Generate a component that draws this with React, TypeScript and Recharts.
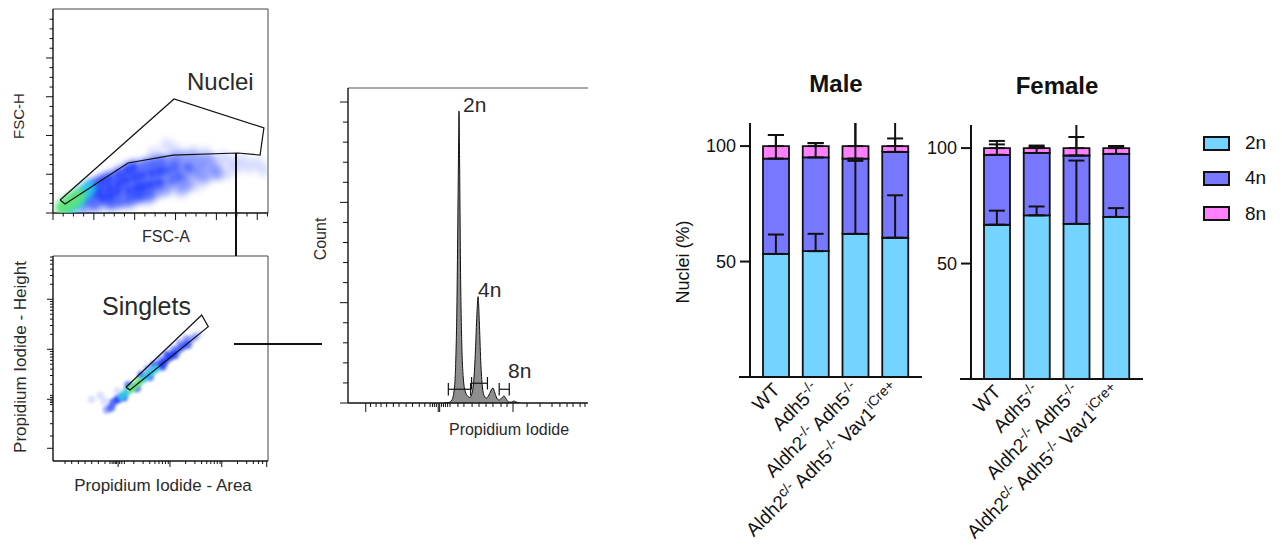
import React from 'react';
import {
  ComposedChart,
  Bar,
  Line,
  ErrorBar,
  XAxis,
  YAxis,
  Legend,
  ScatterChart,
  Scatter,
  AreaChart,
  Area,
  ReferenceLine,
} from 'recharts';

const FONT = '"Liberation Sans", Arial, Helvetica, sans-serif';
const INK = '#111';

// ---------- gate 1: FSC-A vs FSC-H (arbitrary linear units 0-100) ----------
// [FSC-A, FSC-H, relative density]
const nucleiEvents: [number, number, number][] = [
  [98, 21, 0.05], [95, 24.5, 0.06], [91, 22.5, 0.08], [88, 26, 0.07], [53, 33.5, 0.06], [71, 29.5, 0.08],
  [79, 27.5, 0.08], [85, 22, 0.1], [57, 31, 0.1], [65, 30, 0.1], [47, 29.5, 0.12], [83, 25.5, 0.12],
  [81, 19.5, 0.15], [44, 6, 0.12], [36, 4, 0.1], [60, 10, 0.1], [68, 14, 0.12], [22, 2.5, 0.15],
  [14, 1.5, 0.2], [77, 23.5, 0.18], [76.5, 19, 0.2], [73, 26, 0.2], [74.5, 21.5, 0.25], [69, 25.5, 0.25],
  [71, 17.5, 0.25], [65.5, 27, 0.25], [63, 13.5, 0.25], [67, 18.5, 0.3], [69.5, 22, 0.3], [61, 27.5, 0.3],
  [57.5, 26.5, 0.3], [59, 12.5, 0.3], [53, 11.5, 0.3], [65, 21.5, 0.35], [61.5, 17, 0.35], [55, 26, 0.35],
  [49, 10.5, 0.35], [27, 4.5, 0.4], [45, 9, 0.4], [50.5, 25.5, 0.4], [62.5, 22.5, 0.4], [41, 8.5, 0.45],
  [46.5, 24.5, 0.45], [57, 22.5, 0.45], [58.5, 18, 0.45], [19, 4, 0.5], [31, 5.5, 0.5], [35, 6.5, 0.5],
  [38.5, 8, 0.5], [42.5, 23.5, 0.5], [53.5, 21, 0.5], [55, 16, 0.5], [50, 20.5, 0.55], [49.5, 15, 0.55],
  [37.5, 22.5, 0.55], [15, 6.5, 0.6], [23, 7, 0.6], [34.5, 21, 0.6], [46, 19.5, 0.6], [45.5, 14, 0.6],
  [26.5, 8.5, 0.65], [30.5, 19, 0.65], [41.5, 18.5, 0.65], [42, 13, 0.65], [18.5, 9.5, 0.7], [26, 17, 0.7],
  [30, 10.5, 0.7], [34, 16, 0.7], [35, 11, 0.7], [38, 17.5, 0.7], [39, 12.5, 0.7], [19, 13.5, 0.75],
  [22.5, 15.5, 0.75], [21.5, 10.5, 0.75], [26, 12.5, 0.75], [30.5, 14.5, 0.75], [17, 12.5, 0.8], [13, 7, 0.8],
  [9, 4, 0.8], [11, 5.5, 0.85], [7, 2.5, 0.85], [16, 11, 0.85], [14, 10, 0.88], [12, 8.5, 0.95],
  [10, 7, 0.95], [4, 2.5, 1], [6, 4, 1], [8, 5.5, 1],
];
const nucleiGateA = [3.3, 56.3, 98.1, 96.3, 86.0, 55.8, 34.9, 5.6, 3.3];
const nucleiGateH = [6.4, 55.9, 41.7, 28.4, 29.4, 28.4, 24.5, 4.4, 6.4];
const fscMajorX = [0, 19, 38, 57, 76, 95];
const fscMinorX = [4.75, 9.5, 14.25, 23.75, 28.5, 33.25, 42.75, 47.5, 52.25, 61.75, 66.5, 71.25, 80.75, 85.5, 90.25, 99.75];
const fscMajorY = [0, 19, 38, 57, 76];
const fscMinorY = [4.75, 9.5, 14.25, 23.75, 28.5, 33.25, 42.75, 47.5, 52.25, 61.75, 66.5, 71.25, 80.75, 85.5, 90.25, 95];

// ---------- gate 2: PI-A vs PI-H (biexponential display units 0-100) ----------
const singletEvents: [number, number, number][] = [
  [18, 30, 0.08], [30, 34, 0.12], [22, 32, 0.1], [24, 29, 0.15], [62, 59.5, 0.2], [63, 56.5, 0.2],
  [68, 62, 0.15], [66, 60.5, 0.25], [59, 57.5, 0.3], [44, 45, 0.3], [56, 54.5, 0.3], [57, 51.5, 0.3],
  [64, 59, 0.3], [25, 25, 0.3], [50, 49.5, 0.35], [62, 57, 0.4], [53, 52, 0.4], [51, 46, 0.4],
  [27, 26, 0.4], [47, 47, 0.45], [45, 41, 0.45], [60, 55.5, 0.45], [28, 28.5, 0.5], [35, 37, 0.5],
  [41, 42, 0.5], [33, 31, 0.5], [39, 35.5, 0.5], [58, 54, 0.5], [56, 52, 0.55], [54, 50.5, 0.6],
  [30, 30, 0.7], [52, 48.5, 0.7], [50, 47, 0.75], [32, 31.5, 0.8], [48, 45, 0.8], [46, 43.5, 0.85],
  [34, 33.5, 0.9], [42, 40, 0.9], [44, 42, 0.9], [36, 35, 1], [38, 36.5, 1], [40, 38.5, 1],
];
const singletGateA = [33.95, 69.16, 72.23, 35.81, 33.95];
const singletGateH = [35.95, 71.22, 65.51, 34.63, 35.95];
const piMajorX = [30.3, 54.4, 78.5, 99.4];
const piMinorX = [5.6, 8.7, 11.8, 14.9, 18, 21.1, 24.2, 26.5, 27.5, 28.3, 29, 29.6, 31, 32, 33.2, 37.6, 41.9, 45, 47.4, 49.3, 50.9, 52.3, 53.6, 61.7, 66, 69.1, 71.5, 73.4, 75, 76.4, 77.7, 85.8, 90.1, 93.2, 95.6, 97.5];
const piMajorY = [6.2, 30.1, 54.5, 78.9];
const piMinorY = [12.2, 18.2, 24.2, 27.5, 28.5, 29.3, 31, 32, 37.4, 41.7, 44.8, 47.2, 49.1, 50.7, 52.1, 53.4, 61.8, 66.1, 69.2, 71.6, 73.5, 75.1, 76.5, 77.8, 86.2, 90.5, 93.6, 96, 97.9, 99.5];

// ---------- PI histogram ----------
const piLevel = [40, 42, 43.3, 44.2, 44.9, 45.4, 45.8, 46.1, 46.25, 46.5, 46.9, 47.4, 48, 48.8, 49.8, 50.8, 51.6, 52.4, 53.1, 53.7, 54.2, 54.7, 55.3, 56, 56.8, 57.6, 58.5, 59.5, 60.4, 61.2, 62.2, 63, 64, 65, 65.8, 66.8, 68, 69, 70, 71.5];
const piCount = [0, 5, 30, 120, 420, 1000, 1900, 2600, 2910, 2400, 1300, 600, 260, 120, 70, 55, 90, 220, 520, 880, 1060, 820, 420, 160, 70, 50, 70, 120, 150, 100, 40, 30, 50, 70, 45, 12, 8, 20, 10, 0];
const ploidyGates = ['2n', '4n', '8n'];
const gateFrom = [41.8, 51.5, 63];
const gateTo = [51.1, 58.1, 67.2];
const gateAt = [137, 197, 137];
const histMajorX = [7.4, 37.6, 38.2, 68.75];
const histMinorX = [9.4, 11.7, 13.75, 16.1, 18.9, 21.25, 24.2, 26.9, 29.7, 32, 34.2, 35.2, 36, 36.8, 39, 39.8, 40.6, 41.5, 42.5, 45.8, 48.3, 51.7, 54.6, 57.5, 60.4, 63.75, 66.25, 74.6, 80, 85, 88.3, 91.25, 93.75, 96.7, 98.75];
const histMajorY = [0, 1000, 2000, 3000];
const histMinorY = [200, 400, 600, 800, 1200, 1400, 1600, 1800, 2200, 2400, 2600, 2800];

// ---------- ploidy by genotype (% of nuclei, mean and SD) ----------
const genotypes = ['WT', 'Adh5', 'Aldh2 Adh5', 'Aldh2 Adh5 Vav1'];
const genotypeLabels: [string, string][][] = [
  [['WT', '']],
  [['Adh5', '-/-']],
  [['Aldh2', '-/-'], [' Adh5', '-/-']],
  [['Aldh2', 'c/-'], [' Adh5', '-/-'], [' Vav1', 'iCre+']],
];
const male2n = [53.3, 54.5, 62.0, 60.3];
const male4n = [41.3, 40.6, 32.6, 37.2];
const male8n = [5.4, 4.9, 5.4, 2.5];
const male2nSd = [8.4, 7.5, 31.6, 18.4];
const male4nSd = [10.2, 6.2, 18, 15];
const male8nSd = [4.8, 1.3, 12, 3.3];
const female2n = [66.8, 70.9, 67.2, 70.2];
const female4n = [30.3, 27.0, 29.6, 27.3];
const female8n = [2.9, 2.1, 3.2, 2.5];
const female2nSd = [6.1, 3.8, 27.4, 3.8];
const female4nSd = [4.5, 2.6, 16, 3.4];
const female8nSd = [3.1, 1.1, 4.8, 0.9];
const ploidyColors = ['#74d3ff', '#7878ff', '#ff80ff'];

const toEvents = (rows: [number, number, number][]) => rows.map(([a, h, d]) => ({ a, h, d }));
const toPath = (xs: number[], ys: number[]) => xs.map((a, i) => ({ a, h: ys[i] }));

const buildRows = (s2: number[], s4: number[], s8: number[], e2: number[], e4: number[], e8: number[]) =>
  genotypes.map((g, i) => ({
    genotype: g,
    n2: s2[i],
    n4: s4[i],
    n8: s8[i],
    top2: s2[i],
    top4: s2[i] + s4[i],
    top8: s2[i] + s4[i] + s8[i],
    err2: [0, e2[i]],
    err4: [0, e4[i]],
    err8: [0, e8[i]],
  }));

const maleRows = buildRows(male2n, male4n, male8n, male2nSd, male4nSd, male8nSd);
const femaleRows = buildRows(female2n, female4n, female8n, female2nSd, female4nSd, female8nSd);

// density colouring like a pseudocolour dot plot
const densityFill = (d: number): [string, number] => {
  if (d >= 0.92) return ['#5fe37a', 1];
  if (d >= 0.78) return ['#27c6e8', 0.9];
  if (d >= 0.55) return ['#1533ff', 0.85];
  if (d >= 0.38) return ['#2140ff', 0.7];
  if (d >= 0.2) return ['#4a62ff', 0.5];
  return ['#8d9bff', 0.3];
};

const densityDot = (r: number, blur: number) => (props: any) => {
  const { cx, cy, payload } = props;
  const [fill, op] = densityFill(payload.d);
  return <circle cx={cx} cy={cy} r={r} fill={fill} fillOpacity={op} style={{ filter: `blur(${blur}px)` }} />;
};

const noDot = () => <g />;

// flow-style tick marks: long for decades, short in between
const flowTick = (side: 'left' | 'bottom', majors: number[], major: number, minor: number) => (props: any) => {
  const { x, y, payload } = props;
  const len = majors.includes(payload.value) ? major : minor;
  return side === 'left' ? (
    <line x1={x - len} y1={y} x2={x} y2={y} stroke={INK} strokeWidth={1} />
  ) : (
    <line x1={x} y1={y} x2={x} y2={y + len} stroke={INK} strokeWidth={1} />
  );
};

const axisLine = { stroke: INK, strokeWidth: 1.4 };

function NucleiPlot() {
  return (
    <ScatterChart width={280} height={226} margin={{ top: 9, right: 12, bottom: 3, left: 43 }}>
      <XAxis type="number" dataKey="a" domain={[0, 100]} allowDataOverflow ticks={[...fscMajorX, ...fscMinorX]}
        interval={0} tickSize={0} tickMargin={0} tickLine={false} height={10} axisLine={axisLine}
        tick={flowTick('bottom', fscMajorX, 7, 3.5)} />
      <YAxis type="number" dataKey="h" domain={[0, 100]} allowDataOverflow ticks={[...fscMajorY, ...fscMinorY]}
        interval={0} tickSize={0} tickMargin={0} tickLine={false} width={10} axisLine={axisLine}
        tick={flowTick('left', fscMajorY, 7, 3.5)} />
      <ReferenceLine y={100} stroke="#444" strokeWidth={1} />
      <ReferenceLine x={100} stroke="#444" strokeWidth={1} />
      <Scatter data={toEvents(nucleiEvents)} shape={densityDot(6.5, 3.2)} isAnimationActive={false} />
      <Scatter data={toPath(nucleiGateA, nucleiGateH)} line={{ stroke: INK, strokeWidth: 1.2 }} shape={noDot} isAnimationActive={false} />
    </ScatterChart>
  );
}

function SingletsPlot() {
  return (
    <ScatterChart width={280} height={236} margin={{ top: 16, right: 12, bottom: 5, left: 43 }}>
      <XAxis type="number" dataKey="a" domain={[0, 100]} allowDataOverflow ticks={[...piMajorX, ...piMinorX]}
        interval={0} tickSize={0} tickMargin={0} tickLine={false} height={10} axisLine={axisLine}
        tick={flowTick('bottom', piMajorX, 6, 3)} />
      <YAxis type="number" dataKey="h" domain={[0, 100]} allowDataOverflow ticks={[...piMajorY, ...piMinorY]}
        interval={0} tickSize={0} tickMargin={0} tickLine={false} width={10} axisLine={axisLine}
        tick={flowTick('left', piMajorY, 6, 3)} />
      <ReferenceLine y={100} stroke="#444" strokeWidth={1} />
      <ReferenceLine x={100} stroke="#444" strokeWidth={1} />
      <Scatter data={toEvents(singletEvents)} shape={densityDot(4, 1.8)} isAnimationActive={false} />
      <Scatter data={toPath(singletGateA, singletGateH)} line={{ stroke: INK, strokeWidth: 1.2 }} shape={noDot} isAnimationActive={false} />
    </ScatterChart>
  );
}

function PloidyHistogram() {
  const data = piLevel.map((level, i) => ({ level, count: piCount[i] }));
  return (
    <AreaChart width={300} height={340} data={data} margin={{ top: 8, right: 12, bottom: 5, left: 38 }}>
      <XAxis type="number" dataKey="level" domain={[0, 100]} allowDataOverflow ticks={[...histMajorX, ...histMinorX]}
        interval={0} tickSize={0} tickMargin={0} tickLine={false} height={12} axisLine={axisLine}
        tick={flowTick('bottom', histMajorX, 9, 4)} />
      <YAxis type="number" domain={[0, 3140]} allowDataOverflow ticks={[...histMajorY, ...histMinorY]}
        interval={0} tickSize={0} tickMargin={0} tickLine={false} width={10} axisLine={axisLine}
        tick={flowTick('left', histMajorY, 8, 5)} />
      <ReferenceLine y={3140} stroke="#555" strokeWidth={1} />
      <Area type="monotone" dataKey="count" stroke={INK} strokeWidth={1} fill="#8e8e8e" fillOpacity={1}
        isAnimationActive={false} dot={false} activeDot={false} />
      {ploidyGates.map((g, i) => (
        <React.Fragment key={g}>
          <ReferenceLine segment={[{ x: gateFrom[i], y: gateAt[i] }, { x: gateTo[i], y: gateAt[i] }]} stroke={INK} strokeWidth={1.2} />
          <ReferenceLine segment={[{ x: gateFrom[i], y: gateAt[i] - 62 }, { x: gateFrom[i], y: gateAt[i] + 62 }]} stroke={INK} strokeWidth={1.2} />
          <ReferenceLine segment={[{ x: gateTo[i], y: gateAt[i] - 62 }, { x: gateTo[i], y: gateAt[i] + 62 }]} stroke={INK} strokeWidth={1.2} />
        </React.Fragment>
      ))}
    </AreaChart>
  );
}

const GenotypeTick = (props: any) => {
  const { x, y, payload } = props;
  const parts = genotypeLabels[genotypes.indexOf(payload.value)] || [];
  let lift = 0;
  return (
    <text transform={`translate(${x + 5},${y + 14}) rotate(-45)`} textAnchor="end" fontSize={19} fontFamily={FONT} fill={INK}>
      {parts.flatMap(([base, sup], i) => {
        const out = [<tspan key={`b${i}`} dy={lift}>{base}</tspan>];
        lift = 0;
        if (sup) {
          out.push(<tspan key={`s${i}`} dy={-7} fontSize={14}>{sup}</tspan>);
          lift = 7;
        }
        return out;
      })}
    </text>
  );
};

const PloidyLegend = (props: any) => (
  <div style={{ fontFamily: FONT }}>
    {(props.payload || [])
      .filter((p: any) => ploidyGates.includes(p.value))
      .map((p: any) => (
        <div key={p.value} style={{ display: 'flex', alignItems: 'center', height: 35.3 }}>
          <span style={{ display: 'inline-block', boxSizing: 'border-box', width: 27, height: 15, background: p.color, border: `2px solid ${INK}` }} />
          <span style={{ marginLeft: 15, fontSize: 19, color: INK }}>{p.value}</span>
        </div>
      ))}
  </div>
);

// error bars may run past the 110% ceiling; they are clipped to the plot box
const PLOT_CLIP = 'ploidy-plot-clip';

function PloidyBars({ rows, legendTop }: { rows: any[]; legendTop?: number }) {
  const errKeys = ['err2', 'err4', 'err8'];
  const topKeys = ['top2', 'top4', 'top8'];
  return (
    <ComposedChart width={300} height={487} data={rows} margin={{ top: 63, right: 18, bottom: 0, left: 60 }}>
      <XAxis dataKey="genotype" type="category" padding={{ left: 6, right: 7 }} height={170} tickLine={false}
        tickSize={0} tickMargin={0} interval={0} axisLine={{ stroke: INK, strokeWidth: 2 }} tick={<GenotypeTick />} />
      <YAxis domain={[0, 110]} allowDataOverflow ticks={[50, 100]} width={50} tickSize={10} tickMargin={4}
        axisLine={{ stroke: INK, strokeWidth: 2 }} tickLine={{ stroke: INK, strokeWidth: 2 }}
        tick={{ fill: INK, fontSize: 18, fontFamily: FONT }} />
      {['n2', 'n4', 'n8'].map((k, i) => (
        <Bar key={k} dataKey={k} name={ploidyGates[i]} stackId="ploidy" fill={ploidyColors[i]} stroke={INK}
          strokeWidth={1.8} barSize={26} isAnimationActive={false} />
      ))}
      {topKeys.map((k, i) => (
        <Line key={k} dataKey={k} stroke="none" dot={false} activeDot={false} legendType="none" isAnimationActive={false}>
          <ErrorBar dataKey={errKeys[i]} direction="y" width={8} stroke={INK} strokeWidth={2} clipPath={`url(#${PLOT_CLIP})`} />
        </Line>
      ))}
      {legendTop !== undefined && (
        <Legend layout="vertical" align="center" verticalAlign="middle" content={<PloidyLegend />}
          wrapperStyle={{ left: 342, top: legendTop, width: 'auto' }} />
      )}
    </ComposedChart>
  );
}

const labelStyle = { fontFamily: FONT, fill: '#2a2a2a' };

export default function App() {
  return (
    <div style={{ position: 'absolute', left: 0, top: 0, width: 1282, height: 547, background: '#fff', overflow: 'hidden' }}>
      <div style={{ position: 'absolute', left: 0, top: 0 }}>
        <NucleiPlot />
      </div>
      <div style={{ position: 'absolute', left: 0, top: 240 }}>
        <SingletsPlot />
      </div>
      <div style={{ position: 'absolute', left: 300, top: 80 }}>
        <PloidyHistogram />
      </div>
      <div style={{ position: 'absolute', left: 640, top: 60 }}>
        <PloidyBars rows={maleRows} />
      </div>
      <div style={{ position: 'absolute', left: 861, top: 62 }}>
        <PloidyBars rows={femaleRows} legendTop={125.5 - 62} />
      </div>

      <svg width={1282} height={547} style={{ position: 'absolute', left: 0, top: 0, pointerEvents: 'none' }}>
        <defs>
          {/* plot box in each bar chart's own coordinates */}
          <clipPath id={PLOT_CLIP} clipPathUnits="userSpaceOnUse">
            <rect x={100} y={63} width={192} height={254} />
          </clipPath>
        </defs>

        {/* gating hierarchy connectors */}
        <line x1={236} y1={153} x2={236} y2={256} stroke={INK} strokeWidth={2} />
        <line x1={234} y1={344} x2={322} y2={344} stroke={INK} strokeWidth={2} />

        {/* flow panel labels */}
        <text {...labelStyle} fontSize={15} textAnchor="middle" transform="translate(24,116) rotate(-90)">FSC-H</text>
        <text {...labelStyle} fontSize={16} textAnchor="middle" x={166} y={242}>FSC-A</text>
        <text {...labelStyle} fontSize={24} x={187} y={90}>Nuclei</text>
        <text {...labelStyle} fontSize={17} textAnchor="middle" transform="translate(26,357) rotate(-90)">Propidium Iodide - Height</text>
        <text {...labelStyle} fontSize={25} x={102} y={315}>Singlets</text>
        <text {...labelStyle} fontSize={17} textAnchor="middle" x={163} y={491}>Propidium Iodide - Area</text>
        <text {...labelStyle} fontSize={16} textAnchor="middle" transform="translate(326,239) rotate(-90)">Count</text>
        <text {...labelStyle} fontSize={16} textAnchor="middle" x={509} y={435}>Propidium Iodide</text>
        <text {...labelStyle} fontSize={21} x={463} y={112}>2n</text>
        <text {...labelStyle} fontSize={21} x={478} y={297}>4n</text>
        <text {...labelStyle} fontSize={21} x={508} y={378}>8n</text>

        {/* bar panel titles and axis extras */}
        <text fontFamily={FONT} fill={INK} fontSize={24} fontWeight="bold" textAnchor="middle" x={836} y={92}>Male</text>
        <text fontFamily={FONT} fill={INK} fontSize={24} fontWeight="bold" textAnchor="middle" x={1057} y={94}>Female</text>
        <text fontFamily={FONT} fill={INK} fontSize={18} textAnchor="middle" transform="translate(689,262) rotate(-90)">Nuclei (%)</text>
        <line x1={739} y1={377} x2={751} y2={377} stroke={INK} strokeWidth={2} />
        <line x1={960} y1={379} x2={972} y2={379} stroke={INK} strokeWidth={2} />
      </svg>
    </div>
  );
}
